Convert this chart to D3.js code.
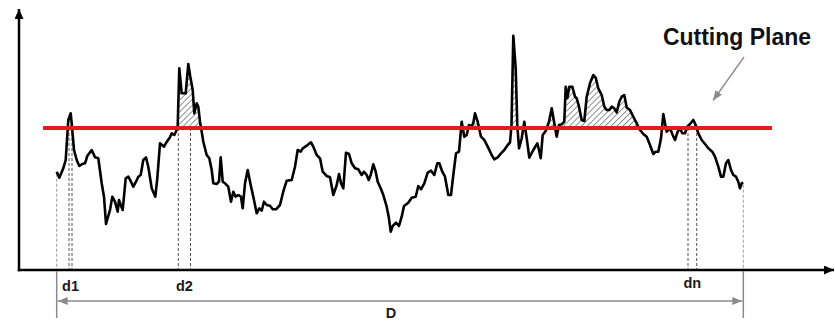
<!DOCTYPE html>
<html>
<head>
<meta charset="utf-8">
<script src="https://cdn.jsdelivr.net/npm/d3@7"></script>
<style>
  html, body { margin: 0; padding: 0; background: #fff; }
  svg { display: block; }
  text { font-family: "Liberation Sans", Arial, sans-serif; font-weight: bold; }
</style>
</head>
<body>
<svg id="chart" width="835" height="322"></svg>
<script>
// Surface profile: distance along the trace and height above the reference axis
const distance = [37.7,40.3,44.3,46.7,49.3,51.7,53,55,57.7,60.3,63.3,66,68.3,72.7,76,79.3,82.7,85,87,91,93.3,96,98.7,100,101.7,103.7,106.7,109.3,112,114.3,117,119.3,121.7,124.3,127,129.3,132.7,136.3,138.3,141,145,147,151,152.7,155.3,157.7,158.7,160.3,162.7,166.7,169.3,171.3,173.7,175.3,177.7,179.3,181,182.7,184.3,187.7,190.3,192.7,194.3,197.7,200,201.7,203.7,206,209.3,212,214.3,216.7,219.3,222,223.7,226,228.7,231.7,234.3,237.7,240.3,242.7,245,247.7,251,253.7,257,261,264.3,267.7,272.7,276,278.7,281.7,283.7,287.7,292,294.3,297.7,301,303.7,307.7,311,314.3,317.7,320,322,324.3,327,330,332.7,336,339.3,342.7,345,347.7,349.7,351.7,354.3,356.7,358.7,361.7,364.3,367.7,369.7,371.7,373.7,377,380,382.7,385,389.3,392.7,396.7,399.3,402,405.3,408.7,412,415.3,418.3,420.3,423.3,426,429.3,432,434.3,437,440,442.7,445.3,447.7,450,452,454.3,456,458.7,462,465.3,468.7,472.7,475.3,478.7,482,485.3,488.7,491,492.5,494.3,496.7,498.3,500,502.7,505.3,507.7,510.3,514.3,518.3,520,521.7,523.7,526.7,530,532.7,535.3,537.7,540,542.7,545.3,546.7,548.3,550.3,553.3,556,557.7,560,562.7,565.3,567.7,571,574.3,576.7,579.3,582.7,585.3,587.7,590.3,592.7,595.3,597.7,600.3,602.7,605.3,607.7,611,614.3,617.7,621,624.3,627.7,631,634.3,636.7,639.3,642,644.3,646,647.7,651,653.7,656,658.7,661,663.3,666,668.3,671,674.3,676.7,679.3,682.7,686,689.3,693.3,696,699.3,702,704.3,707,709.3,712,714.3,717,719.3,721,722.7,724.3];
const height = [98.3,92.3,101.7,110,150,156.7,143.3,120,110,104,106,106.7,114,120,112.7,111.7,86.7,73.3,46,60,73.3,68.3,58.3,70,65,60,91.7,93.3,88.3,83.3,88.3,93.3,95,110,112.7,103.3,81.7,73.3,91.7,126.7,123.3,127,132.7,136.7,135,140,144,201.7,176.7,176.7,206,193.3,180,156.7,166.7,163.3,148.3,138.3,128.3,115,111.7,100,86.7,86,88.3,112.7,88.3,86.7,83.3,68.3,78.3,73.3,75,73.3,61.7,86.7,100,85,73.3,56.7,61.7,59.3,68.3,65,64.3,60.7,60.7,65,78.5,89.3,90,103.3,120,118.3,121.7,124.3,127.7,123.3,115,111.7,98.3,94,92.7,75,85,96,86.7,81.7,117.3,116,106.7,101.7,100.7,95,98.3,95,90,95,105.7,98.3,88.3,81.7,75,63.3,53.3,38.3,44,47.3,44,53.3,64,67.3,72.3,73.3,84,80.7,86.7,97.3,99.3,95,106.7,106.7,98.3,93.3,75,75,95,116.7,118.3,148.3,133.3,135,145,143.3,146.7,156.7,148.3,133.3,130,123.3,115,110.7,112.7,116.7,120,125,127.5,145,234.3,201.7,145,121.7,131.7,148.3,131.7,112.3,120,126.7,120,111.7,135,139,148.3,161.7,146.7,133.3,145,145.7,148.3,183.3,171.7,183.3,183.3,173.3,171.7,163.3,150,149,173.3,186.7,195,192.3,181.7,175,163.3,160,160,163.3,161.7,157.7,168.3,173.3,175,162.5,160,153.3,146.7,140,136,133.3,125,116,118.3,118.3,131.7,156,146.7,138.3,141.7,135,130,138.3,141.7,136.7,136.7,143.3,146,150,145,136.7,130,126,121.7,118.3,113.3,103.3,93.3,93.3,106.7,110,100,95,93.3,88.3,81.7,86.7,87.3];

// Cutting plane level and its drawn extent
const planeHeight = 142;
const planeSpan = [24, 753];

// Measured segments where the profile meets the plane
const segmentLabels = ["d1", "d2", "dn"];
const segmentStart = [50, 159.3, 669];
const segmentEnd = [53, 171.5, 677.7];

// Overall length label
const totalLabel = "D";
const totalLabelAt = 372;
const planeLabel = "Cutting Plane";

const profile = distance.map((d, i) => ({ d, h: height[i] }));

const svg = d3.select("#chart");
const W = 835, H = 322;

const x = d3.scaleLinear().domain([0, 815]).range([19, 834]);
const y = d3.scaleLinear().domain([0, 261]).range([270, 9]);

const defs = svg.append("defs");

// Diagonal hatch used for the material above the plane
const pat = defs.append("pattern")
  .attr("id", "hatch")
  .attr("patternUnits", "userSpaceOnUse")
  .attr("width", 4.2).attr("height", 4.2)
  .attr("patternTransform", "rotate(45)");
pat.append("line")
  .attr("x1", 0).attr("y1", 0).attr("x2", 0).attr("y2", 4.2)
  .attr("stroke", "#222").attr("stroke-width", 1);

defs.append("clipPath").attr("id", "abovePlane")
  .append("rect")
  .attr("x", 0).attr("y", 0)
  .attr("width", W).attr("height", y(planeHeight));

function arrowMarker(id, color, w, h) {
  defs.append("marker")
    .attr("id", id)
    .attr("viewBox", `0 0 ${w} ${h}`)
    .attr("refX", w).attr("refY", h / 2)
    .attr("markerUnits", "userSpaceOnUse")
    .attr("markerWidth", w).attr("markerHeight", h)
    .attr("orient", "auto-start-reverse")
    .append("path")
    .attr("d", `M0,0 L${w},${h / 2} L0,${h} Z`)
    .attr("fill", color);
}
arrowMarker("arrowBlack", "#000", 10, 9);
arrowMarker("arrowGrey", "#8a8a8a", 10, 8);

svg.append("rect").attr("width", W).attr("height", H).attr("fill", "#fff");

const xMin = x.domain()[0], xMax = x.domain()[1];
const yMax = y.domain()[1];

// Dashed drop lines for the segment boundaries
const dropG = svg.append("g").attr("fill", "none").attr("stroke-width", 1);
segmentStart.forEach((s, i) => {
  [s, segmentEnd[i]].forEach(v => {
    dropG.append("line")
      .attr("x1", x(v)).attr("x2", x(v))
      .attr("y1", y(planeHeight)).attr("y2", y(0))
      .attr("stroke", "#555")
      .attr("stroke-dasharray", "3,2");
  });
});

// Drop lines at both ends of the profile
const first = profile[0], last = profile[profile.length - 1];
[first, last].forEach(p => {
  dropG.append("line")
    .attr("x1", x(p.d)).attr("x2", x(p.d))
    .attr("y1", y(p.h) + 2).attr("y2", y(0))
    .attr("stroke", "#9a9a9a")
    .attr("stroke-dasharray", "3,2");
});

// Hatched region: area between profile and plane, kept only above the plane
const area = d3.area()
  .x(p => x(p.d))
  .y0(y(planeHeight))
  .y1(p => y(p.h));
svg.append("path")
  .datum(profile)
  .attr("d", area)
  .attr("fill", "url(#hatch)")
  .attr("clip-path", "url(#abovePlane)");

// Profile trace
const line = d3.line().x(p => x(p.d)).y(p => y(p.h));
svg.append("path")
  .datum(profile)
  .attr("d", line)
  .attr("fill", "none")
  .attr("stroke", "#000")
  .attr("stroke-width", 2.6)
  .attr("stroke-linejoin", "round");

// Cutting plane
svg.append("line")
  .attr("x1", x(planeSpan[0])).attr("x2", x(planeSpan[1]))
  .attr("y1", y(planeHeight)).attr("y2", y(planeHeight))
  .attr("stroke", "#e31b1f")
  .attr("stroke-width", 4);

// Axes with arrowheads
svg.append("line")
  .attr("x1", x(xMin)).attr("x2", x(xMin))
  .attr("y1", y(0) + 1.2).attr("y2", y(yMax))
  .attr("stroke", "#000").attr("stroke-width", 2.5)
  .attr("marker-end", "url(#arrowBlack)");
svg.append("line")
  .attr("x1", x(xMin) - 1.2).attr("x2", x(xMax))
  .attr("y1", y(0)).attr("y2", y(0))
  .attr("stroke", "#000").attr("stroke-width", 2.5)
  .attr("marker-end", "url(#arrowBlack)");

// Overall length dimension with extension lines
const dimY = 301;
const dimG = svg.append("g").attr("stroke", "#8a8a8a").attr("stroke-width", 1.5);
[first.d, last.d].forEach(v => {
  dimG.append("line")
    .attr("x1", x(v)).attr("x2", x(v))
    .attr("y1", y(0) + 1).attr("y2", 318);
});
dimG.append("line")
  .attr("x1", x(first.d) + 1).attr("x2", x(last.d) - 1)
  .attr("y1", dimY).attr("y2", dimY)
  .attr("marker-start", "url(#arrowGrey)")
  .attr("marker-end", "url(#arrowGrey)");

// Segment labels
svg.append("g").selectAll("text")
  .data(segmentLabels)
  .join("text")
  .attr("x", (t, i) => x((segmentStart[i] + segmentEnd[i]) / 2))
  .attr("y", (t, i) => i === 2 ? 288 : 291)
  .attr("text-anchor", "middle")
  .attr("font-size", 14.5)
  .attr("fill", "#1a1a1a")
  .text(t => t);

svg.append("text")
  .attr("x", x(totalLabelAt))
  .attr("y", 318)
  .attr("text-anchor", "middle")
  .attr("font-size", 14.5)
  .attr("fill", "#1a1a1a")
  .text(totalLabel);

// Plane callout
svg.append("text")
  .attr("x", 737)
  .attr("y", 45)
  .attr("text-anchor", "middle")
  .attr("font-size", 23)
  .attr("fill", "#111")
  .text(planeLabel);
svg.append("line")
  .attr("x1", 744).attr("y1", 57)
  .attr("x2", 713).attr("y2", 100.5)
  .attr("stroke", "#8a8a8a").attr("stroke-width", 1.3)
  .attr("marker-end", "url(#arrowGrey)");
</script>
</body>
</html>
